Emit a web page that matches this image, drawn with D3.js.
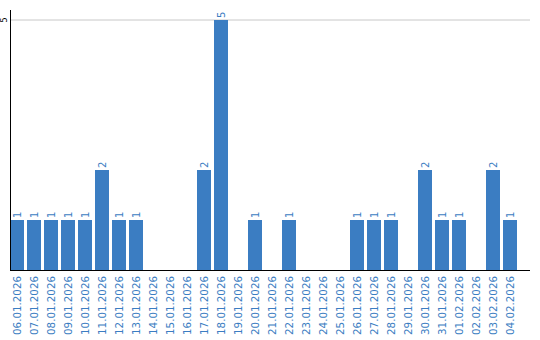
<!DOCTYPE html>
<html>
<head>
<meta charset="utf-8">
<script src="https://cdn.jsdelivr.net/npm/d3@7"></script>
<style>
  body { margin:0; background:#fff; }
  text { font-family:"DejaVu Sans", Verdana, sans-serif; }
</style>
</head>
<body>
<svg id="chart" width="540" height="340"></svg>
<script>
// daily counts
var days = ["06.01.2026","07.01.2026","08.01.2026","09.01.2026","10.01.2026","11.01.2026",
  "12.01.2026","13.01.2026","14.01.2026","15.01.2026","16.01.2026","17.01.2026","18.01.2026",
  "19.01.2026","20.01.2026","21.01.2026","22.01.2026","23.01.2026","24.01.2026","25.01.2026",
  "26.01.2026","27.01.2026","28.01.2026","29.01.2026","30.01.2026","31.01.2026","01.02.2026",
  "02.02.2026","03.02.2026","04.02.2026"];
var counts = [1,1,1,1,1,2,1,1,0,0,0,2,5,0,1,0,1,0,0,0,1,1,1,0,2,1,1,0,2,1];
var yTicks = [5];

var blue = "#3b7dc2";
var svg = d3.select("#chart");

var x = d3.scaleBand().domain(days).range([10, 517]).paddingInner(3/17).paddingOuter(0);
var y = d3.scaleLinear().domain([0, 5]).range([270, 20]);

// grid line
svg.append("g")
  .selectAll("line")
  .data(yTicks)
  .enter()
  .append("line")
  .attr("x1", 10).attr("x2", 530)
  .attr("y1", function(d){ return y(d); })
  .attr("y2", function(d){ return y(d); })
  .attr("stroke", "#c8c8c8")
  .attr("stroke-width", 1);

// bars
svg.append("g")
  .selectAll("rect")
  .data(counts)
  .enter()
  .append("rect")
  .attr("x", function(d,i){ return x(days[i]); })
  .attr("y", function(d){ return y(d); })
  .attr("width", x.bandwidth())
  .attr("height", function(d){ return y(0) - y(d); })
  .attr("fill", blue);

// value labels (skip zeros)
var vl = svg.append("g");
counts.forEach(function(d,i){
  if(d <= 0) return;
  vl.append("text")
    .attr("transform", "translate(" + (x(days[i]) + x.bandwidth()/2 + 3.5) + "," + (y(d) - 2) + ") rotate(-90)")
    .attr("font-size", "10px")
    .attr("fill", blue)
    .text(d);
});

// axis lines
svg.append("line")
  .attr("x1", 10.5).attr("x2", 10.5).attr("y1", 10).attr("y2", 270)
  .attr("stroke", "#000");
svg.append("line")
  .attr("x1", 10).attr("x2", 530).attr("y1", 270.5).attr("y2", 270.5)
  .attr("stroke", "#000");

// y tick labels
svg.append("g")
  .selectAll("text")
  .data(yTicks)
  .enter()
  .append("text")
  .attr("transform", function(d){ return "translate(7," + y(d) + ") rotate(-90)"; })
  .attr("text-anchor", "middle")
  .attr("font-size", "8px")
  .attr("fill", "#000")
  .text(function(d){ return d; });

// x labels
svg.append("g")
  .selectAll("text")
  .data(days)
  .enter()
  .append("text")
  .attr("transform", function(d){
    return "translate(" + (x(d) + x.bandwidth()/2 + 3.5) + ",276) rotate(-90)";
  })
  .attr("text-anchor", "end")
  .attr("font-size", "10.3px")
  .attr("fill", blue)
  .text(function(d){ return d; });
</script>
</body>
</html>
